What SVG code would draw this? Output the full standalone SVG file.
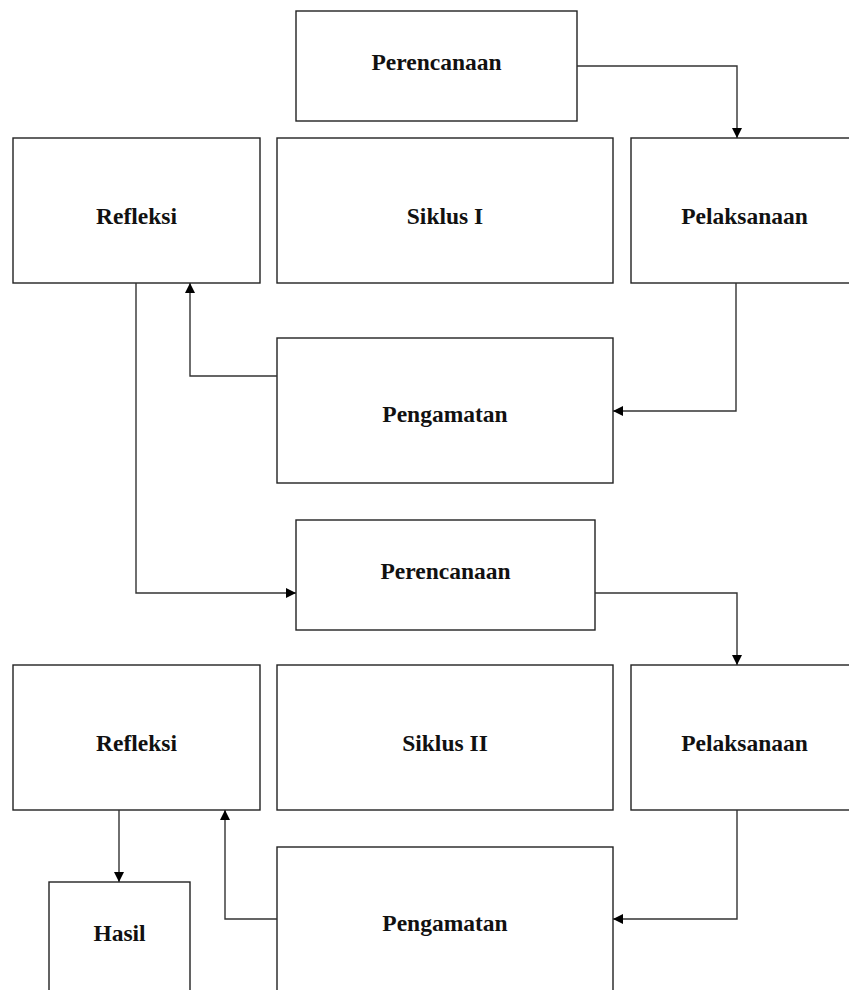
<svg xmlns="http://www.w3.org/2000/svg" width="849" height="990" viewBox="0 0 849 990">
<style>
.box{fill:#fff;stroke:#222;stroke-width:1.4}
.lbl{font-family:"Liberation Serif","Times New Roman",serif;font-weight:bold;font-size:23.5px;fill:#111;text-anchor:middle}
.con{fill:none;stroke:#333;stroke-width:1.4}
</style>
<defs>
<marker id="ah" viewBox="0 0 10 10" refX="10" refY="5" markerWidth="10" markerHeight="10" markerUnits="userSpaceOnUse" orient="auto">
<path d="M0,0 L10,5 L0,10 Z" fill="#000"/>
</marker>
</defs>
<rect width="849" height="990" fill="#fff"/>
<g id="perencanaan1"><rect class="box" x="296" y="11" width="281" height="110"/><text class="lbl" x="436.5" y="70">Perencanaan</text></g>
<g id="refleksi1"><rect class="box" x="13" y="138" width="247" height="145"/><text class="lbl" x="136.5" y="224">Refleksi</text></g>
<g id="siklus1"><rect class="box" x="277" y="138" width="336" height="145"/><text class="lbl" x="445" y="224">Siklus I</text></g>
<g id="pelaksanaan1"><rect class="box" x="631" y="138" width="227" height="145"/><text class="lbl" x="744.5" y="224">Pelaksanaan</text></g>
<g id="pengamatan1"><rect class="box" x="277" y="338" width="336" height="145"/><text class="lbl" x="445" y="422">Pengamatan</text></g>
<g id="perencanaan2"><rect class="box" x="296" y="520" width="299" height="110"/><text class="lbl" x="445.5" y="579">Perencanaan</text></g>
<g id="refleksi2"><rect class="box" x="13" y="665" width="247" height="145"/><text class="lbl" x="136.5" y="751">Refleksi</text></g>
<g id="siklus2"><rect class="box" x="277" y="665" width="336" height="145"/><text class="lbl" x="445" y="751">Siklus II</text></g>
<g id="pelaksanaan2"><rect class="box" x="631" y="665" width="227" height="145"/><text class="lbl" x="744.5" y="751">Pelaksanaan</text></g>
<g id="pengamatan2"><rect class="box" x="277" y="847" width="336" height="160"/><text class="lbl" x="445" y="931">Pengamatan</text></g>
<g id="hasil"><rect class="box" x="49" y="882" width="141" height="125"/><text class="lbl" x="119.5" y="941">Hasil</text></g>
<g id="connectors">
<path class="con" d="M577,66 H737 V138" marker-end="url(#ah)"/>
<path class="con" d="M736,283 V411 H613" marker-end="url(#ah)"/>
<path class="con" d="M277,376 H190 V283" marker-end="url(#ah)"/>
<path class="con" d="M136,283 V593 H296" marker-end="url(#ah)"/>
<path class="con" d="M595,593 H737 V665" marker-end="url(#ah)"/>
<path class="con" d="M737,810 V919 H613" marker-end="url(#ah)"/>
<path class="con" d="M277,919 H225 V810" marker-end="url(#ah)"/>
<path class="con" d="M119,810 V882" marker-end="url(#ah)"/>
</g>
</svg>
